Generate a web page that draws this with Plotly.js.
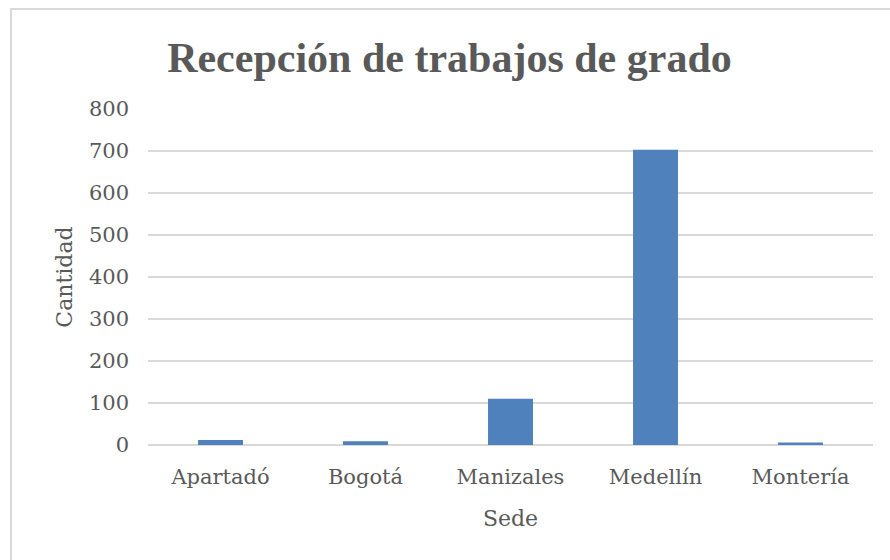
<!DOCTYPE html>
<html>
<head>
<meta charset="utf-8">
<script src="https://cdn.plot.ly/plotly-3.0.1.min.js"></script>
<style>
html,body{margin:0;padding:0;background:#fff;}
#wrap{position:relative;width:890px;height:560px;}
#chart{width:890px;height:560px;}
#frame{position:absolute;left:10px;top:8px;width:900px;height:600px;border-left:2px solid #d9d9d9;border-top:2px solid #d9d9d9;pointer-events:none;box-sizing:border-box;}
</style>
</head>
<body>
<div id="wrap"><div id="chart"></div><div id="frame"></div></div>
<script>
const sedes = ["Apartadó", "Bogotá", "Manizales", "Medellín", "Montería"];
const cantidad = [12, 9, 110, 703, 6];
const yTicks = [0, 100, 200, 300, 400, 500, 600, 700, 800];

const titleFam = "Liberation Serif, serif";
const fontFam = "DejaVu Serif, serif";
const gray = "#595959";

Plotly.newPlot("chart", [{
  type: "bar",
  x: sedes,
  y: cantidad,
  width: 0.31,
  marker: {color: "#4F81BD"},
  hoverinfo: "x+y"
}], {
  width: 890, height: 560,
  paper_bgcolor: "#fff", plot_bgcolor: "#fff",
  margin: {l: 148, r: 17, t: 109, b: 115},
  showlegend: false,
  title: {
    text: "<b>Recepción de trabajos de grado</b>",
    font: {family: titleFam, size: 42, color: gray},
    x: 0.505, xref: "container", xanchor: "center",
    y: 0.897, yref: "container", yanchor: "middle"
  },
  xaxis: {
    showgrid: false, zeroline: false, showline: false,
    ticks: "", ticklabelstandoff: 17,
    tickfont: {family: fontFam, size: 21, color: gray},
    title: {text: "Sede", font: {family: fontFam, size: 22, color: gray}, standoff: 22},
    automargin: false
  },
  yaxis: {
    range: [0, 800],
    tickvals: yTicks,
    ticktext: yTicks.map(String),
    showgrid: true, gridcolor: "#d9d9d9", gridwidth: 2,
    zeroline: true, zerolinecolor: "#d9d9d9", zerolinewidth: 2,
    showline: false, ticks: "", ticklabelstandoff: 18,
    tickfont: {family: fontFam, size: 21, color: gray},
    title: {text: "Cantidad", font: {family: fontFam, size: 22, color: gray}, standoff: 10},
    automargin: false
  }
}, {displayModeBar: false});
</script>
</body>
</html>
